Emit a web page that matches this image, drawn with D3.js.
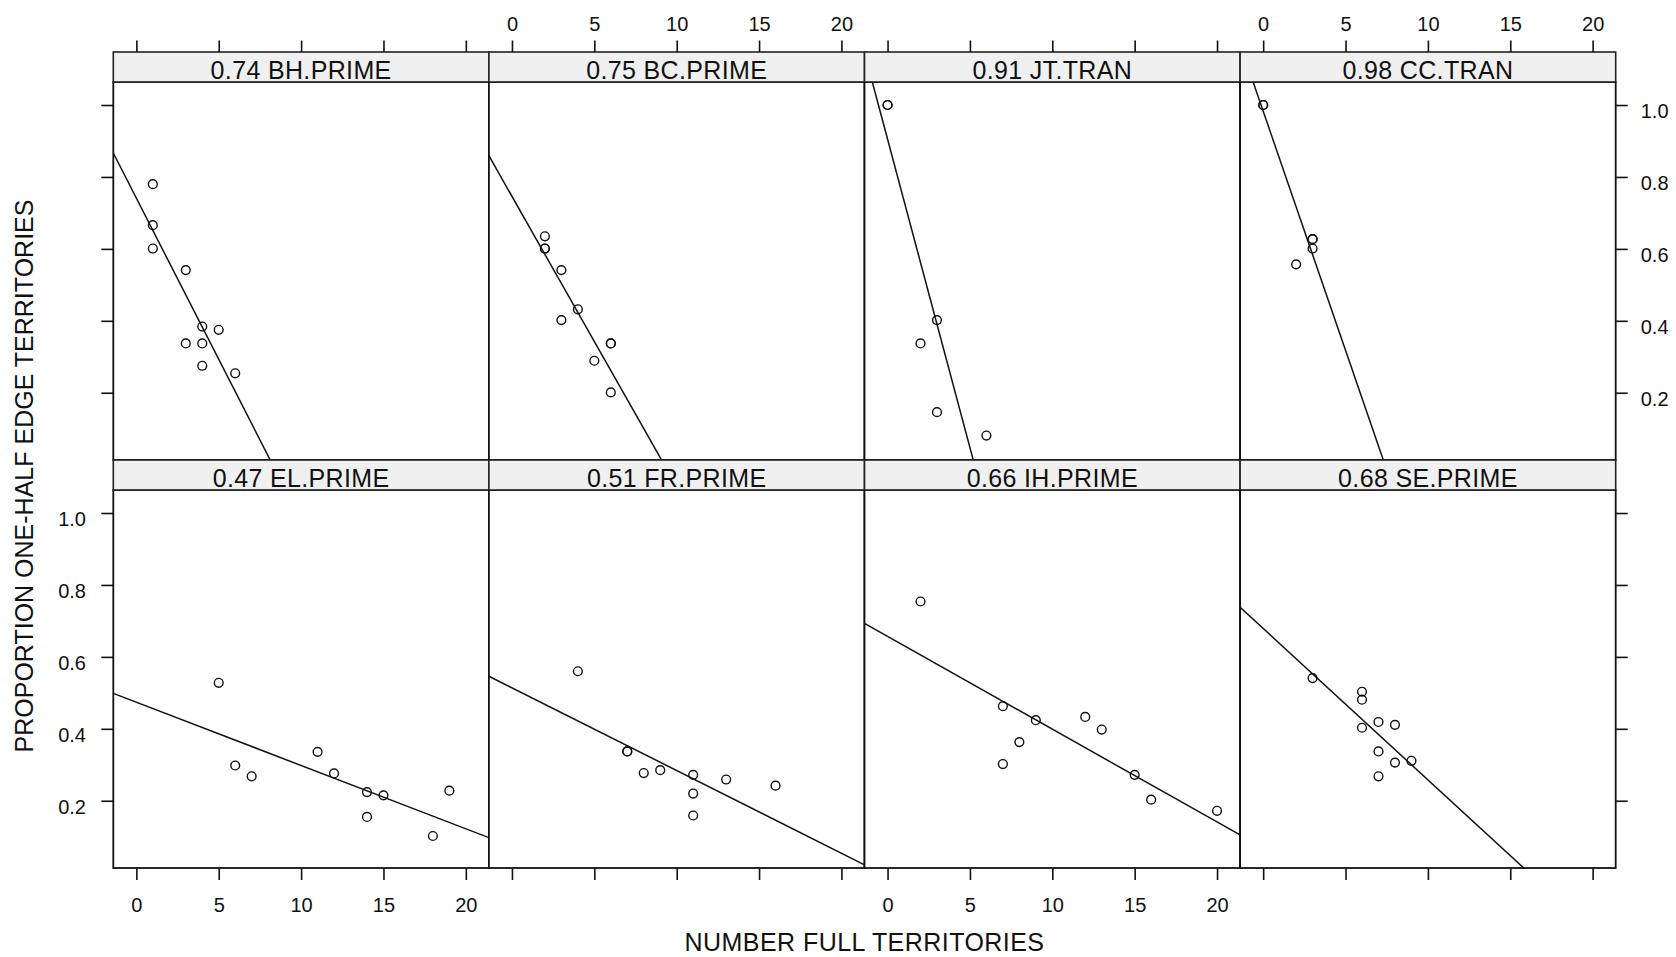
<!DOCTYPE html>
<html>
<head>
<meta charset="utf-8">
<script src="https://cdn.jsdelivr.net/npm/d3@7/dist/d3.min.js"></script>
<style>
  html, body { margin: 0; padding: 0; background: #fff; }
  svg { display: block; font-family: "Liberation Sans", Arial, sans-serif; }
</style>
</head>
<body>
<svg id="chart" width="1676" height="957"></svg>
<script>
// ---- data ----
const panelLabels = ["0.74 BH.PRIME", "0.75 BC.PRIME", "0.91 JT.TRAN", "0.98 CC.TRAN",
                     "0.47 EL.PRIME", "0.51 FR.PRIME", "0.66 IH.PRIME", "0.68 SE.PRIME"];

const xBH = [1, 1, 1, 3, 4, 5, 3, 4, 4, 6];
const yBH = [0.780, 0.666, 0.601, 0.541, 0.384, 0.375, 0.337, 0.337, 0.275, 0.254];

const xBC = [2, 2, 2, 3, 4, 3, 6, 6, 5, 6];
const yBC = [0.635, 0.601, 0.601, 0.541, 0.432, 0.402, 0.337, 0.337, 0.289, 0.201];

const xJT = [0, 0, 3, 2, 3, 6];
const yJT = [1.000, 1.000, 0.402, 0.337, 0.146, 0.081];

const xCC = [0, 0, 3, 3, 3, 2];
const yCC = [1.000, 1.000, 0.627, 0.627, 0.601, 0.557];

const xEL = [5, 6, 7, 11, 12, 14, 15, 14, 18, 19];
const yEL = [0.528, 0.298, 0.268, 0.336, 0.276, 0.224, 0.215, 0.155, 0.102, 0.228];

const xFR = [4, 7, 7, 8, 9, 11, 11, 11, 13, 16];
const yFR = [0.560, 0.337, 0.337, 0.277, 0.285, 0.272, 0.220, 0.159, 0.259, 0.242];

const xIH = [2, 7, 9, 8, 7, 12, 13, 15, 16, 20];
const yIH = [0.754, 0.463, 0.424, 0.363, 0.302, 0.433, 0.398, 0.272, 0.203, 0.172];

const xSE = [3, 6, 6, 6, 7, 8, 7, 8, 9, 7];
const ySE = [0.541, 0.503, 0.481, 0.403, 0.419, 0.411, 0.337, 0.306, 0.311, 0.268];

// fitted lines (intercept, slope)
const intercepts = [0.741, 0.746, 0.905, 0.983, 0.474, 0.514, 0.657, 0.679];
const slopes     = [-0.0896, -0.0807, -0.1715, -0.133, -0.0176, -0.0230, -0.0258, -0.0421];

const xTicks = [0, 5, 10, 15, 20];
const yTicks = [0.2, 0.4, 0.6, 0.8, 1.0];

const xTitle = "NUMBER FULL TERRITORIES";
const yTitle = "PROPORTION ONE-HALF EDGE TERRITORIES";

const xsAll = [xBH, xBC, xJT, xCC, xEL, xFR, xIH, xSE];
const ysAll = [yBH, yBC, yJT, yCC, yEL, yFR, yIH, ySE];

// ---- layout ----
const leftX = 113.3, topY = 52, panelW = 375.6, stripH = 30, plotH = 378, rowH = 408;
const xDomain = [-1.4, 21.4], yDomain = [0.013, 1.064];
const ink = "#111";

const svg = d3.select("#chart");
const defs = svg.append("defs");

const x = d3.scaleLinear().domain(xDomain).range([0, panelW]);
const y = d3.scaleLinear().domain(yDomain).range([plotH, 0]);

const tickFont = 20;

for (let i = 0; i < 8; i++) {
  const row = Math.floor(i / 4), col = i % 4;
  const px = leftX + col * panelW;
  const rowTop = topY + row * rowH;
  const py = rowTop + stripH;

  const g = svg.append("g").attr("transform", `translate(${px},${py})`);

  defs.append("clipPath").attr("id", "clip" + i)
    .append("rect").attr("x", 0).attr("y", 0).attr("width", panelW).attr("height", plotH);

  g.append("rect").attr("width", panelW).attr("height", plotH)
    .attr("fill", "#fff");

  const inner = g.append("g").attr("clip-path", `url(#clip${i})`);

  const a = intercepts[i], b = slopes[i];
  inner.append("line")
    .attr("x1", x(xDomain[0])).attr("y1", y(a + b * xDomain[0]))
    .attr("x2", x(xDomain[1])).attr("y2", y(a + b * xDomain[1]))
    .attr("stroke", ink).attr("stroke-width", 1.5);

  const pts = xsAll[i].map((v, k) => [v, ysAll[i][k]]);
  inner.selectAll("circle").data(pts).join("circle")
    .attr("cx", d => x(d[0])).attr("cy", d => y(d[1]))
    .attr("r", 4.4)
    .attr("fill", "none").attr("stroke", ink).attr("stroke-width", 1.4);

  g.append("rect").attr("width", panelW).attr("height", plotH)
    .attr("fill", "none").attr("stroke", ink).attr("stroke-width", 1.8);

  const s = svg.append("g").attr("transform", `translate(${px},${rowTop})`);
  s.append("rect").attr("width", panelW).attr("height", stripH)
    .attr("fill", "#f0f0f0").attr("stroke", "#222").attr("stroke-width", 1.6);
  s.append("text")
    .attr("x", panelW / 2).attr("y", 27.3)
    .attr("text-anchor", "middle")
    .attr("font-size", 25).attr("letter-spacing", "0.35px")
    .attr("fill", ink)
    .text(panelLabels[i]);

  const styleAxis = (sel) => {
    sel.select(".domain").remove();
    sel.selectAll(".tick line").attr("stroke", ink).attr("stroke-width", 1.6);
    sel.selectAll(".tick text").attr("fill", ink).attr("font-size", tickFont)
      .attr("font-family", "Liberation Sans, Arial, sans-serif");
  };

  if (row === 0) {
    const showLab = (col % 2 === 1);
    const ax = svg.append("g").attr("transform", `translate(${px},${rowTop})`)
      .call(d3.axisTop(x).tickValues(xTicks).tickSize(11.5).tickPadding(10)
        .tickFormat(showLab ? d3.format("d") : () => ""));
    styleAxis(ax);
  }
  if (row === 1) {
    const showLab = (col % 2 === 0);
    const ax = g.append("g").attr("transform", `translate(0,${plotH})`)
      .call(d3.axisBottom(x).tickValues(xTicks).tickSize(12).tickPadding(18)
        .tickFormat(showLab ? d3.format("d") : () => ""));
    styleAxis(ax);
  }
  if (col === 0) {
    const showLab = (row === 1);
    const ax = g.append("g")
      .call(d3.axisLeft(y).tickValues(yTicks).tickSize(12).tickPadding(15.3)
        .tickFormat(showLab ? d3.format(".1f") : () => ""));
    styleAxis(ax);
    ax.selectAll(".tick text").attr("dy", "0.62em");
  }
  if (col === 3) {
    const showLab = (row === 0);
    const ax = g.append("g").attr("transform", `translate(${panelW},0)`)
      .call(d3.axisRight(y).tickValues(yTicks).tickSize(12).tickPadding(13)
        .tickFormat(showLab ? d3.format(".1f") : () => ""));
    styleAxis(ax);
    ax.selectAll(".tick text").attr("dy", "0.62em");
  }
}

svg.append("text")
  .attr("x", leftX + 2 * panelW).attr("y", 951)
  .attr("text-anchor", "middle")
  .attr("font-size", 25).attr("letter-spacing", "0.45px")
  .attr("fill", ink)
  .text(xTitle);

svg.append("text")
  .attr("transform", `translate(33,476) rotate(-90)`)
  .attr("text-anchor", "middle")
  .attr("font-size", 25)
  .attr("fill", ink)
  .text(yTitle);
</script>
</body>
</html>
